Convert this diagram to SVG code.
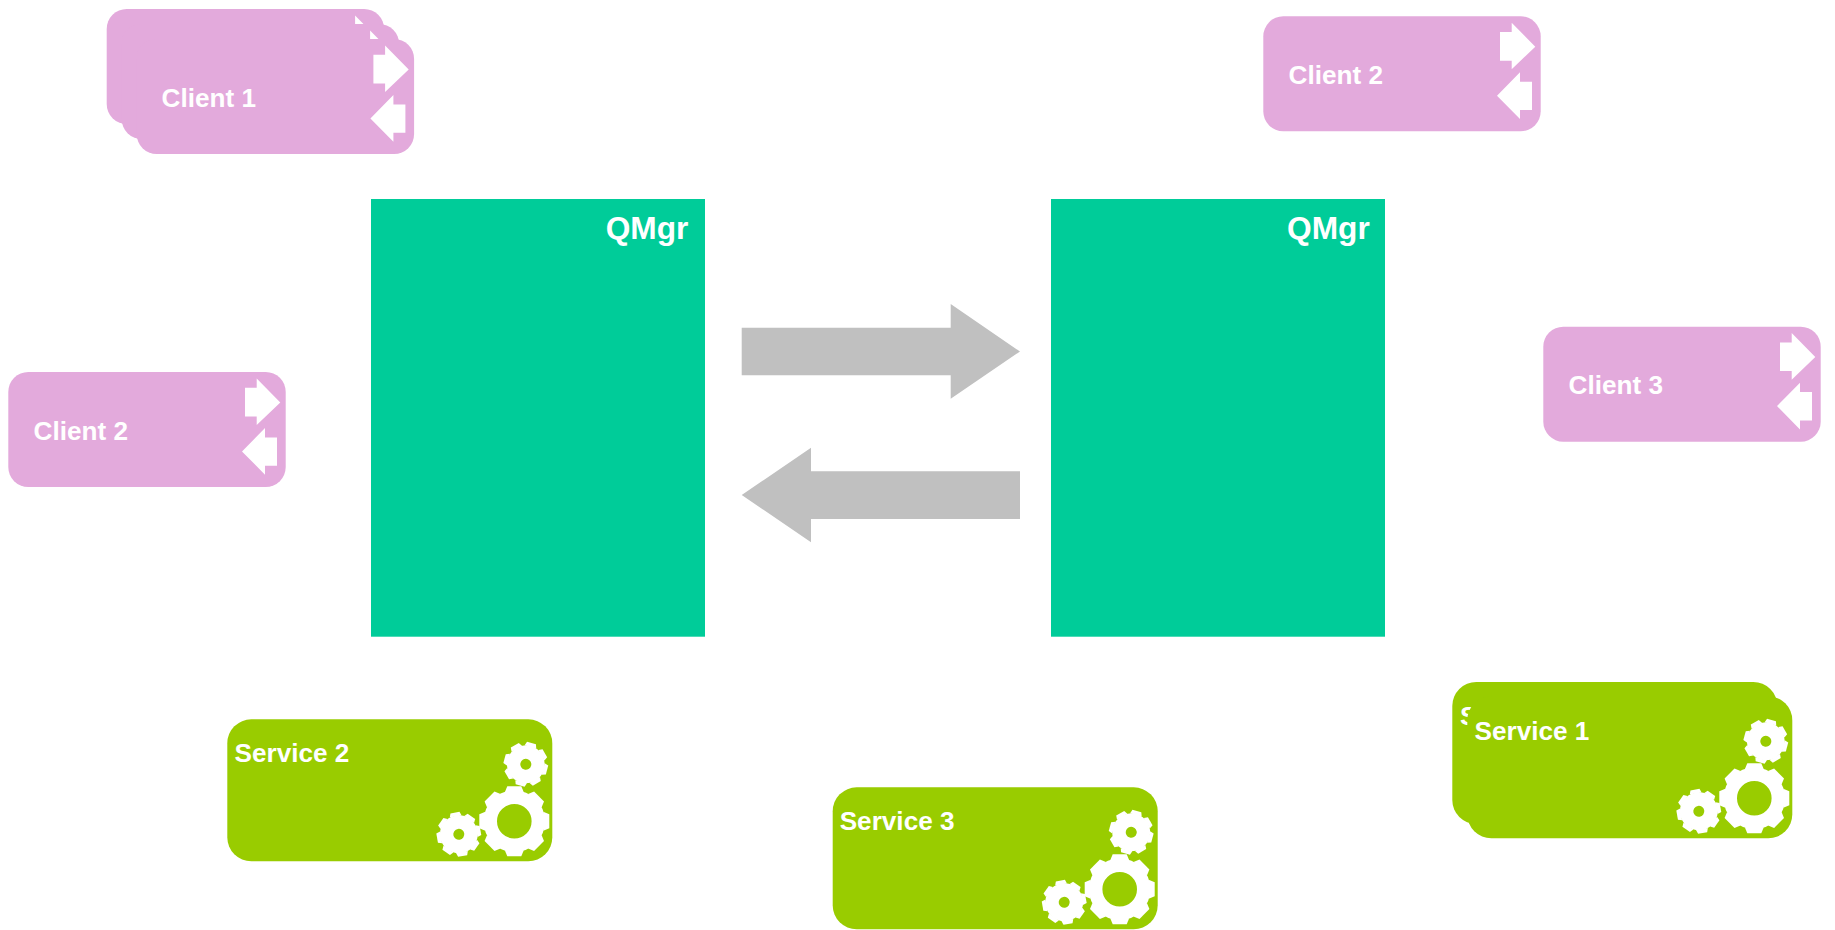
<svg xmlns="http://www.w3.org/2000/svg" xmlns:xlink="http://www.w3.org/1999/xlink" width="1835" height="930" viewBox="0 0 1835 930">
<style>
text{font-family:"Liberation Sans",Arial,sans-serif;font-weight:bold;fill:#fff;font-size:26.15px}
.q{font-size:31.7px}
.c{fill:#E3AADC}
.s{fill:#99CC00}
.m{fill:#00CC99}
.w{fill:#fff}
.a{fill:#C0C0C0}
</style>
<defs>
<g id="clientArt">
<rect class="c" width="277.4" height="115" rx="20"/>
<polygon class="w" points="236.7,15.7 248.4,15.7 248.4,6.4 272,30.4 248.4,53 248.4,44.4 236.7,44.4"/>
<polygon class="w" points="233.7,79.4 256.7,56 256.7,65.4 268.7,65.4 268.7,93.7 256.7,93.7 256.7,102.7"/>
</g>
<polygon id="tl" class="w" points="-9.5,-29 -7,-35 7,-35 9.5,-29"/>
<g id="gearL">
<circle cx="0" cy="0" r="24" fill="none" stroke="#fff" stroke-width="13.4"/>
<use xlink:href="#tl"/><use xlink:href="#tl" transform="rotate(45)"/><use xlink:href="#tl" transform="rotate(90)"/><use xlink:href="#tl" transform="rotate(135)"/><use xlink:href="#tl" transform="rotate(180)"/><use xlink:href="#tl" transform="rotate(225)"/><use xlink:href="#tl" transform="rotate(270)"/><use xlink:href="#tl" transform="rotate(315)"/>
</g>
<polygon id="ts" class="w" points="-6,-18 -4.6,-22 4.6,-22 6,-18"/>
<g id="gearS">
<circle cx="0" cy="0" r="12.2" fill="none" stroke="#fff" stroke-width="13.4"/>
<use xlink:href="#ts"/><use xlink:href="#ts" transform="rotate(45)"/><use xlink:href="#ts" transform="rotate(90)"/><use xlink:href="#ts" transform="rotate(135)"/><use xlink:href="#ts" transform="rotate(180)"/><use xlink:href="#ts" transform="rotate(225)"/><use xlink:href="#ts" transform="rotate(270)"/><use xlink:href="#ts" transform="rotate(315)"/>
</g>
<g id="serviceArt">
<rect class="s" width="325" height="142" rx="24"/>
<use xlink:href="#gearL" transform="translate(287 102)"/>
<use xlink:href="#gearS" transform="translate(298.5 45) rotate(15)"/>
<use xlink:href="#gearS" transform="translate(231.5 115) rotate(-10)"/>
</g>
</defs>
<g id="qmgr-left">
<rect class="m" x="371" y="199" width="334" height="437.7"/>
<text class="q" x="605.7" y="239.3">QMgr</text>
</g>
<g id="qmgr-right">
<rect class="m" x="1051" y="199" width="334" height="437.7"/>
<text class="q" x="1287" y="239.3">QMgr</text>
</g>
<g id="connectors">
<polygon class="a" points="741.7,327.7 950.7,327.7 950.7,304 1020,351.5 950.7,398.7 950.7,375.3 741.7,375.3"/>
<polygon class="a" points="1020,471.3 811,471.3 811,447.7 741.7,495 811,542.3 811,519 1020,519"/>
</g>
<g id="client-1">
<use xlink:href="#clientArt" x="106.7" y="9"/>
<use xlink:href="#clientArt" x="121.7" y="24"/>
<use xlink:href="#clientArt" x="136.7" y="39"/>
<text x="161.5" y="107">Client 1</text>
</g>
<g id="client-2-top">
<use xlink:href="#clientArt" x="1263.3" y="16.3"/>
<text x="1288.5" y="84">Client 2</text>
</g>
<g id="client-2-left">
<use xlink:href="#clientArt" x="8.3" y="372"/>
<text x="33.5" y="440">Client 2</text>
</g>
<g id="client-3">
<use xlink:href="#clientArt" x="1543.3" y="326.7"/>
<text x="1568.5" y="394">Client 3</text>
</g>
<g id="service-1">
<rect class="s" x="1452.3" y="682" width="325" height="142" rx="24"/>
<text x="1460" y="725">S</text>
<use xlink:href="#serviceArt" x="1467.3" y="696.3"/>
<text x="1474.5" y="740">Service 1</text>
</g>
<g id="service-2">
<use xlink:href="#serviceArt" x="227.3" y="719.3"/>
<text x="234.5" y="762">Service 2</text>
</g>
<g id="service-3">
<use xlink:href="#serviceArt" x="832.7" y="787.3"/>
<text x="839.7" y="830">Service 3</text>
</g>
</svg>
